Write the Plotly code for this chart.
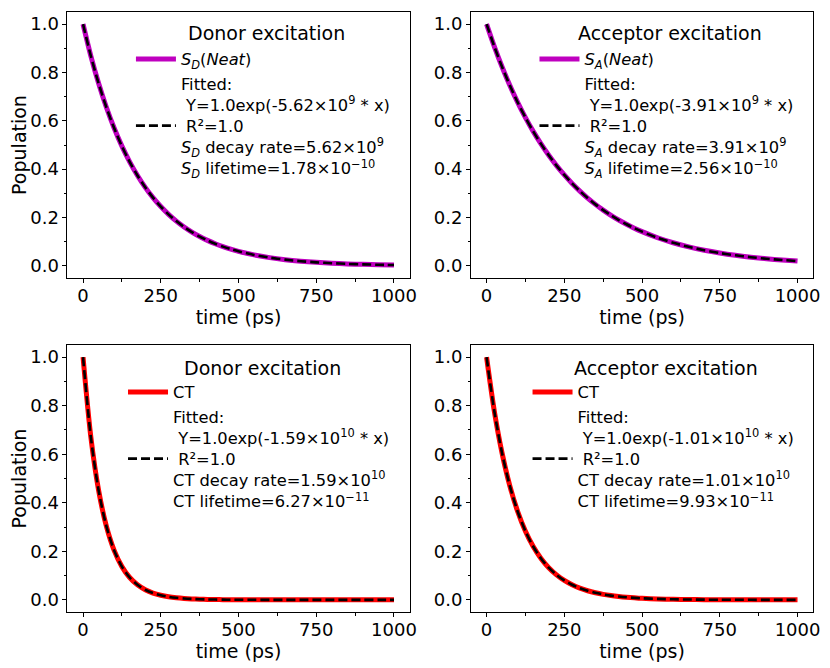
import plotly.graph_objects as go

# ---------------- data ----------------
time_ps = [0, 25, 50, 75, 100, 125, 150, 175, 200, 225, 250, 275, 300, 325, 350,
           375, 400, 425, 450, 475, 500, 550, 600, 650, 700, 750, 800, 850, 900, 950, 1000]

pop_sd_neat = [1.000, 0.8689, 0.7550, 0.6560, 0.5701, 0.4953, 0.4304, 0.3740, 0.3250, 0.2824,
               0.2454, 0.2132, 0.1853, 0.1610, 0.1399, 0.1215, 0.1056, 0.0918, 0.0797, 0.0693,
               0.0602, 0.0455, 0.0343, 0.0259, 0.0196, 0.0148, 0.0112, 0.0084, 0.0064, 0.0048, 0.0036]

pop_sa_neat = [1.000, 0.9069, 0.8224, 0.7458, 0.6764, 0.6134, 0.5563, 0.5045, 0.4575, 0.4149,
               0.3763, 0.3412, 0.3095, 0.2806, 0.2545, 0.2308, 0.2093, 0.1898, 0.1722, 0.1561,
               0.1416, 0.1164, 0.0958, 0.0788, 0.0648, 0.0533, 0.0438, 0.0360, 0.0296, 0.0244, 0.0200]

pop_ct_donor = [1.000, 0.6720, 0.4516, 0.3035, 0.2039, 0.1370, 0.0921, 0.0619, 0.0416, 0.0279,
                0.0188, 0.0126, 0.0085, 0.0057, 0.0038, 0.0026, 0.0017, 0.0012, 0.0008, 0.0005,
                0.0004, 0.0002, 0.0001, 0.0000, 0.0000, 0.0000, 0.0000, 0.0000, 0.0000, 0.0000, 0.0000]

pop_ct_acceptor = [1.000, 0.7769, 0.6035, 0.4689, 0.3642, 0.2829, 0.2198, 0.1708, 0.1326, 0.1030,
                   0.0800, 0.0622, 0.0483, 0.0375, 0.0291, 0.0226, 0.0176, 0.0137, 0.0106, 0.0083,
                   0.0064, 0.0039, 0.0023, 0.0014, 0.0009, 0.0005, 0.0003, 0.0002, 0.0001, 0.0001, 0.0000]

panel_titles = ["Donor excitation", "Acceptor excitation", "Donor excitation", "Acceptor excitation"]
series_names = ["<i>S</i><sub><i>D</i></sub>(<i>Neat</i>)",
                "<i>S</i><sub><i>A</i></sub>(<i>Neat</i>)",
                "CT", "CT"]
fit_labels = [
    "Fitted:<br>\u00a0Y=1.0exp(-5.62×10<sup>9</sup> * x)<br>\u00a0R²=1.0<br>"
    "<i>S</i><sub><i>D</i></sub> decay rate=5.62×10<sup>9</sup><br>"
    "<i>S</i><sub><i>D</i></sub> lifetime=1.78×10<sup>−10</sup>",
    "Fitted:<br>\u00a0Y=1.0exp(-3.91×10<sup>9</sup> * x)<br>\u00a0R²=1.0<br>"
    "<i>S</i><sub><i>A</i></sub> decay rate=3.91×10<sup>9</sup><br>"
    "<i>S</i><sub><i>A</i></sub> lifetime=2.56×10<sup>−10</sup>",
    "Fitted:<br>\u00a0Y=1.0exp(-1.59×10<sup>10</sup> * x)<br>\u00a0R²=1.0<br>"
    "CT decay rate=1.59×10<sup>10</sup><br>CT lifetime=6.27×10<sup>−11</sup>",
    "Fitted:<br>\u00a0Y=1.0exp(-1.01×10<sup>10</sup> * x)<br>\u00a0R²=1.0<br>"
    "CT decay rate=1.01×10<sup>10</sup><br>CT lifetime=9.93×10<sup>−11</sup>",
]
series = [pop_sd_neat, pop_sa_neat, pop_ct_donor, pop_ct_acceptor]
colors = ["#bf00bf", "#bf00bf", "#ff0000", "#ff0000"]

x_ticks = [0, 250, 500, 750, 1000]
y_ticks = [0.0, 0.2, 0.4, 0.6, 0.8, 1.0]

# ---------------- layout ----------------
OFF = 8                     # page body margin of the html
W, H = 830 - OFF, 668 - OFF
FONT = "DejaVu Sans"


def px(xp):
    return (xp - OFF) / W


def py(yp):
    return 1 - (yp - OFF) / H


x_domains = [(px(68), px(413)), (px(475), px(820))]
y_domains = [(py(278), py(12)), (py(612), py(345))]
# legend positions (left px, top px) in page pixels
legend_pos = [(132, 42), (539, 42), (124, 375), (532, 375)]
title_pos = [(269, 33), (676, 33), (265, 368), (672, 368)]

fig = go.Figure()
layout = dict(width=W, height=H, margin=dict(l=0, r=0, t=0, b=0),
              paper_bgcolor="white", plot_bgcolor="white",
              font=dict(family=FONT, size=18, color="black"))
annotations = []

for i in range(4):
    row, col = divmod(i, 2)
    n = "" if i == 0 else str(i + 1)
    xa, ya = "x" + n, "y" + n
    leg = "legend" + n
    fig.add_trace(go.Scatter(x=time_ps, y=series[i], mode="lines", name=series_names[i],
                             line=dict(color=colors[i], width=5, shape="spline", smoothing=0.8),
                             xaxis=xa, yaxis=ya, legend=leg))
    fig.add_trace(go.Scatter(x=time_ps, y=series[i], mode="lines", name=fit_labels[i],
                             line=dict(color="black", width=2.6, dash="9px,4px",
                                       shape="spline", smoothing=0.8),
                             xaxis=xa, yaxis=ya, legend=leg))
    layout["xaxis" + n] = dict(
        domain=x_domains[col], anchor=ya, range=[-50, 1050],
        tickvals=x_ticks, ticks="outside", ticklen=4, tickwidth=1, tickcolor="black",
        ticklabelstandoff=-3,
        showline=True, linecolor="black", linewidth=1, mirror=True,
        showgrid=False, zeroline=False, tickfont=dict(size=18),
        minor=dict(ticks="outside", dtick=125, tick0=0, ticklen=2.5, tickcolor="black", showgrid=False),
        title=dict(text="time (ps)", font=dict(size=19), standoff=4))
    layout["yaxis" + n] = dict(
        domain=y_domains[row], anchor=xa, range=[-0.05, 1.05],
        tickvals=y_ticks, ticktext=["%.1f" % v for v in y_ticks],
        ticks="outside", ticklen=4, tickwidth=1, tickcolor="black",
        showline=True, linecolor="black", linewidth=1, mirror=True,
        showgrid=False, zeroline=False, tickfont=dict(size=18),
        minor=dict(ticks="outside", dtick=0.1, tick0=0, ticklen=2.5, tickcolor="black", showgrid=False),
        title=dict(text="Population" if col == 0 else "", font=dict(size=19), standoff=0))
    lx, ly = legend_pos[i]
    layout[leg] = dict(x=px(lx), y=py(ly), xanchor="left", yanchor="top",
                       xref="paper", yref="paper",
                       bgcolor="rgba(0,0,0,0)", borderwidth=0,
                       font=dict(size=16.3, family=FONT, color="black"),
                       itemwidth=40, valign="middle")
    tx, ty = title_pos[i]
    annotations.append(dict(text=panel_titles[i], x=px(tx), y=py(ty), xref="paper", yref="paper",
                            xanchor="center", yanchor="middle", showarrow=False,
                            font=dict(size=19, family=FONT, color="black")))

layout["annotations"] = annotations
fig.update_layout(**layout)
fig.write_html("out.html")
